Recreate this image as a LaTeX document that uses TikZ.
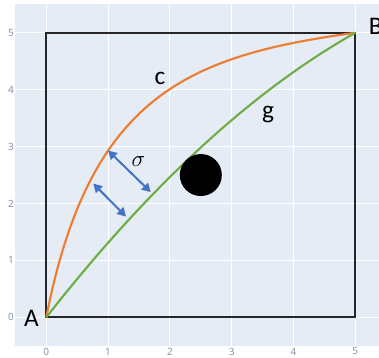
\documentclass[tikz,border=0pt]{standalone}
\usepackage{fontspec}
\setmainfont{Carlito}
\newfontfamily\tickfont{Open Sans}
\usetikzlibrary{arrows.meta}

\definecolor{plotbg}{HTML}{E5ECF6}
\definecolor{tickgrey}{HTML}{7A8BA8}
\definecolor{curvec}{HTML}{ED7D31}
\definecolor{curveg}{HTML}{70AD47}
\definecolor{arrowblue}{HTML}{4472C4}

\begin{document}
\begin{tikzpicture}[
        x=46.35pt, y=42.675pt,
        gridline/.style={draw=white, line width=0.75pt},
        ticklabel/.style={font=\tickfont\fontsize{7.5}{8}\selectfont, text=tickgrey, inner sep=0pt},
        frame/.style={draw=black!85, line width=1.5pt},
        pathc/.style={draw=curvec, line width=1.6pt},
        pathg/.style={draw=curveg, line width=1.6pt},
        gap/.style={draw=arrowblue, line width=1.5pt, {Triangle[length=6.5pt,width=7pt]}-{Triangle[length=6.5pt,width=7pt]}},
        bigtext/.style={font=\fontsize{19}{22}\selectfont, inner sep=0pt}
    ]
    \useasboundingbox (-0.749,-0.698) rectangle (5.383,5.576);

    % ==========================================
    % 1. Plot area and grid
    % ==========================================
    \fill[plotbg] (-0.5,-0.5) rectangle (5.383,5.5);
    \foreach \k in {0,...,5} {
        \path[gridline] (\k,-0.5) -- (\k,5.5);
        \path[gridline] (-0.5,\k) -- (5.383,\k);
        \node[ticklabel] (xt\k) at (\k,-0.6) {\k};
        \node[ticklabel, anchor=east] (yt\k) at (-0.52,\k) {\k};
    }

    % ==========================================
    % 2. Square, curves and obstacle
    % ==========================================
    \coordinate (A) at (0,0);
    \coordinate (B) at (5,5);
    \path[frame] (A) rectangle (B);

    % curve c (orange)
    \path[pathc] (A) .. controls (0.7,3.9) and (2.3,4.6) .. (B);
    % curve g (green)
    \path[pathg] plot[domain=0:5, samples=40] (\x, {1.3875*\x-0.0775*\x*\x});

    \node[circle, fill=black, minimum size=31.5pt, inner sep=0pt] (obst) at (2.5,2.5) {};

    % ==========================================
    % 3. Distance arrows and labels
    % ==========================================
    \coordinate (s1a) at (1.0,2.93);
    \coordinate (s1b) at (1.69,2.2);
    \coordinate (s2a) at (0.76,2.35);
    \coordinate (s2b) at (1.29,1.77);
    \path[gap] (s1a) -- (s1b);
    \path[gap] (s2a) -- (s2b);

    \node[bigtext] (sigma) at (1.49,2.73) {$\sigma$};
    \node[bigtext] (lc) at (1.84,4.2) {c};
    \node[bigtext] (lg) at (3.59,3.56) {g};
    \node[bigtext] (lA) at (-0.24,-0.02) {A};
    \node[bigtext] (lB) at (5.33,5.12) {B};

\end{tikzpicture}
\end{document}
